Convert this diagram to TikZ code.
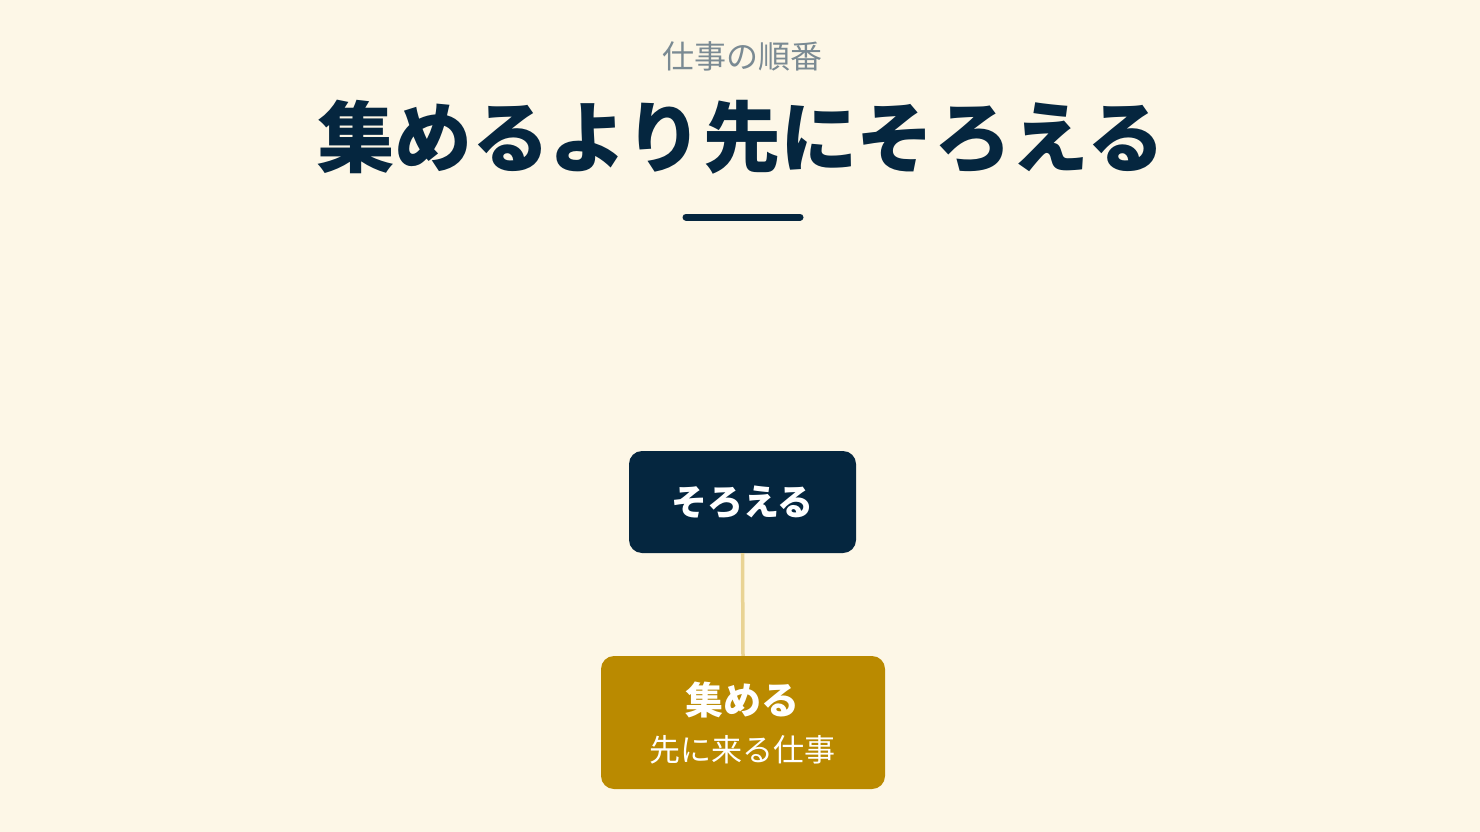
\documentclass[tikz,border=0pt]{standalone}
\usepackage{fontspec}
\setmainfont{Noto Sans CJK JP}
\newfontfamily\cjk{Noto Sans CJK JP}
\definecolor{bg}{HTML}{FDF7E7}
\definecolor{navy}{HTML}{05263F}
\definecolor{gold}{HTML}{BA8A00}
\definecolor{link}{HTML}{E9D393}
\definecolor{subgray}{HTML}{7A8A93}
\begin{document}
\begin{tikzpicture}[x=1pt,y=-1pt,
  box/.style={rounded corners=13pt, inner sep=0pt, text=white, align=center},
  tnode/.style={inner sep=0pt, anchor=center}]
\path[fill=bg] (0,0) rectangle (1480,832);
\useasboundingbox (0,0) rectangle (1480,832);
\node[tnode, text=subgray, font=\cjk\fontsize{32}{38}\selectfont] (sub) at (742,56) {仕事の順番};
\node[tnode, text=navy, font=\cjk\bfseries\fontsize{77.5}{90}\selectfont] (title) at (741,137) {集めるより先にそろえる};
\coordinate (ulA) at (686,217);
\coordinate (ulB) at (800,217);
\draw[navy, line width=7pt, line cap=round] (ulA) -- (ulB);
\node[box, fill=navy, minimum width=227pt, minimum height=102pt, font=\cjk\bfseries\fontsize{36}{40}\selectfont] (top) at (742.5,502) {そろえる};
\node[box, fill=gold, minimum width=284pt, minimum height=133pt] (bot) at (743,722.5) {};
\node[tnode, text=white, font=\cjk\bfseries\fontsize{38}{42}\selectfont] (botA) at (742,700) {集める};
\node[tnode, text=white, font=\cjk\fontsize{31}{34}\selectfont] (botB) at (742,750) {先に来る仕事};
\draw[link, line width=3.5pt] (top.south) -- (bot.north);
\end{tikzpicture}
\end{document}
